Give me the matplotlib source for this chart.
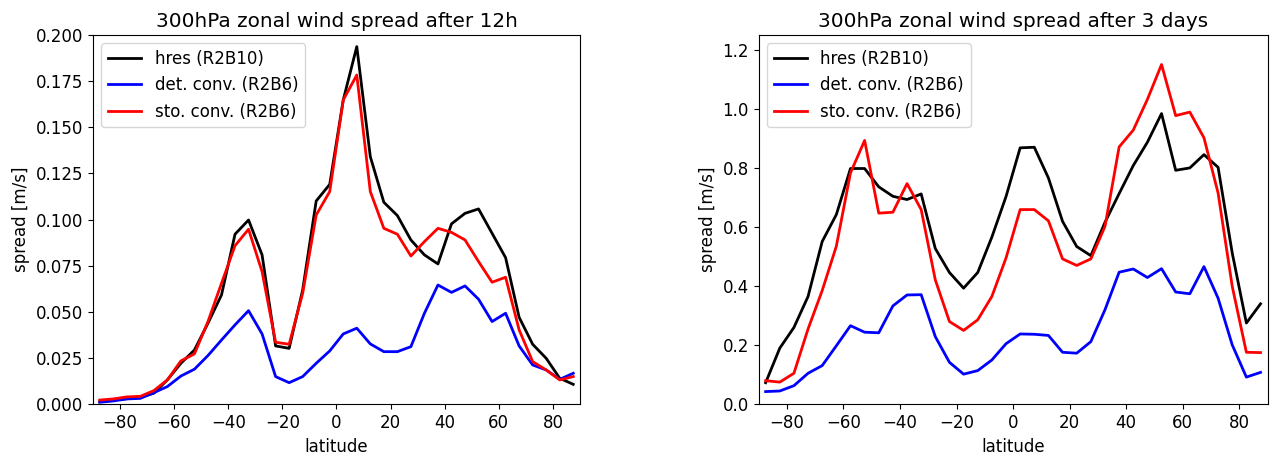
import numpy as np
import matplotlib
matplotlib.use("Agg")
import matplotlib.pyplot as plt

plt.rcParams['font.size'] = 12

# latitude band centres
lat = np.arange(-87.5, 90, 5)

# spread after 12h
hres_12h = [0.0014, 0.0023, 0.0030, 0.0038, 0.0060, 0.0132, 0.0222, 0.0294, 0.0439, 0.0592,
            0.0921, 0.0998, 0.0809, 0.0316, 0.0303, 0.0619, 0.1101, 0.1191, 0.1648, 0.1937,
            0.1341, 0.1094, 0.1022, 0.0890, 0.0809, 0.0760, 0.0977, 0.1034, 0.1058, 0.0926,
            0.0794, 0.0471, 0.0325, 0.0249, 0.0141, 0.0108]
det_12h = [0.0011, 0.0018, 0.0029, 0.0032, 0.0063, 0.0096, 0.0153, 0.0190, 0.0264, 0.0348,
           0.0430, 0.0507, 0.0381, 0.0150, 0.0117, 0.0150, 0.0222, 0.0289, 0.0381, 0.0412,
           0.0327, 0.0285, 0.0285, 0.0312, 0.0493, 0.0646, 0.0606, 0.0641, 0.0569, 0.0448,
           0.0493, 0.0316, 0.0213, 0.0186, 0.0135, 0.0168]
sto_12h = [0.0023, 0.0029, 0.0040, 0.0043, 0.0074, 0.0132, 0.0235, 0.0273, 0.0448, 0.0655,
           0.0859, 0.0948, 0.0718, 0.0336, 0.0325, 0.0601, 0.1025, 0.1152, 0.1648, 0.1783,
           0.1152, 0.0953, 0.0921, 0.0803, 0.0881, 0.0953, 0.0931, 0.0890, 0.0773, 0.0661,
           0.0688, 0.0403, 0.0231, 0.0186, 0.0132, 0.0150]

# spread after 3 days
hres_3d = [0.073, 0.190, 0.260, 0.365, 0.551, 0.642, 0.798, 0.798, 0.736, 0.704,
           0.693, 0.712, 0.527, 0.446, 0.393, 0.446, 0.566, 0.703, 0.868, 0.870,
           0.766, 0.619, 0.534, 0.503, 0.616, 0.713, 0.808, 0.887, 0.984, 0.792,
           0.800, 0.845, 0.802, 0.512, 0.275, 0.340]
det_3d = [0.043, 0.045, 0.063, 0.105, 0.131, 0.198, 0.266, 0.244, 0.242, 0.333,
          0.370, 0.371, 0.229, 0.142, 0.102, 0.114, 0.150, 0.205, 0.238, 0.237,
          0.233, 0.176, 0.173, 0.212, 0.320, 0.447, 0.458, 0.429, 0.459, 0.380,
          0.374, 0.466, 0.359, 0.201, 0.092, 0.108]
sto_3d = [0.080, 0.075, 0.105, 0.255, 0.385, 0.535, 0.783, 0.893, 0.647, 0.650,
          0.747, 0.659, 0.421, 0.280, 0.250, 0.286, 0.365, 0.495, 0.659, 0.659,
          0.621, 0.492, 0.470, 0.492, 0.602, 0.871, 0.928, 1.032, 1.150, 0.977,
          0.989, 0.902, 0.715, 0.399, 0.176, 0.175]

labels = ['hres (R2B10)', 'det. conv. (R2B6)', 'sto. conv. (R2B6)']

fig = plt.figure(figsize=(12.7, 4.59), dpi=100)
ax1 = fig.add_axes([0.0732, 0.1192, 0.3835, 0.8046])
ax2 = fig.add_axes([0.5973, 0.1192, 0.4008, 0.8046])

for ax, h, d, s, title, ymax in [
        (ax1, hres_12h, det_12h, sto_12h, '300hPa zonal wind spread after 12h', 0.2),
        (ax2, hres_3d, det_3d, sto_3d, '300hPa zonal wind spread after 3 days', 1.25)]:
    ax.plot(lat, h, color='black', lw=2, label=labels[0])
    ax.plot(lat, d, color='blue', lw=2, label=labels[1])
    ax.plot(lat, s, color='red', lw=2, label=labels[2])
    ax.set_xlim(-90, 90)
    ax.set_ylim(0, ymax)
    ax.set_xlabel('latitude')
    ax.set_ylabel('spread [m/s]')
    ax.set_title(title)
    ax.legend(loc='upper left')

fig.savefig('out.png', dpi=100)
